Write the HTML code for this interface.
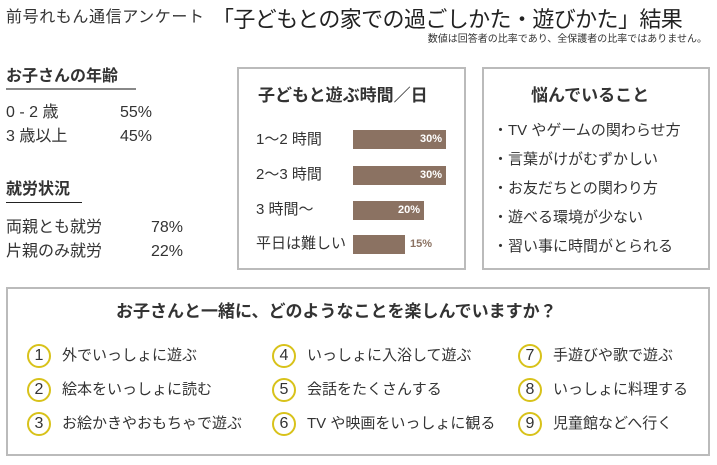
<!DOCTYPE html>
<html><head><meta charset="utf-8"><style>
body{margin:0;width:717px;height:465px;background:#fff;position:relative;font-family:"Liberation Sans","Noto Sans CJK JP",sans-serif;color:#333;overflow:hidden}
.a{position:absolute;white-space:nowrap;line-height:20px}
.box{position:absolute;border:2px solid #bbb;box-sizing:border-box}
.bar{position:absolute;left:353px;height:19px;background:#8b7262;color:#fff;font-size:11px;font-weight:bold;text-align:right;line-height:19px;box-sizing:border-box;padding-right:4px}
.c{position:absolute;width:20px;height:20px;border:2px solid #d8c21a;border-radius:50%;font-size:16px;line-height:20px;text-align:center;color:#333}
.t{position:absolute;font-size:15px;white-space:nowrap;line-height:20px}
</style></head><body>
<div class="a" style="left:6px;top:8px;font-size:16px;letter-spacing:0.6px">前号れもん通信アンケート</div>
<div class="a" style="left:212px;top:6px;font-size:22px;line-height:28px;color:#222;letter-spacing:-0.6px">「子どもとの家での過ごしかた・遊びかた」結果</div>
<div class="a" style="right:10px;top:33px;font-size:10px;line-height:14px">数値は回答者の比率であり、全保護者の比率ではありません。</div>

<div class="a" style="left:6px;top:67px;font-size:16px;font-weight:bold;border-bottom:2px solid #888;padding-bottom:1px;width:130px">お子さんの年齢</div>
<div class="a" style="left:6px;top:103px;font-size:16px">0 - 2 歳</div>
<div class="a" style="left:120px;top:103px;font-size:16px">55%</div>
<div class="a" style="left:6px;top:127px;font-size:16px">3 歳以上</div>
<div class="a" style="left:120px;top:127px;font-size:16px">45%</div>
<div class="a" style="left:6px;top:180px;font-size:16px;font-weight:bold;border-bottom:1px solid #222;padding-bottom:2px;width:76px">就労状況</div>
<div class="a" style="left:6px;top:218px;font-size:16px">両親とも就労</div>
<div class="a" style="left:151px;top:218px;font-size:16px">78%</div>
<div class="a" style="left:6px;top:242px;font-size:16px">片親のみ就労</div>
<div class="a" style="left:151px;top:242px;font-size:16px">22%</div>

<div class="box" style="left:237px;top:67px;width:229px;height:203px"></div>
<div class="a" style="left:258px;top:86px;font-size:17px;font-weight:bold">子どもと遊ぶ時間／日</div>
<div class="a" style="left:256px;top:130px;font-size:15px">1〜2 時間</div>
<div class="a" style="left:256px;top:165px;font-size:15px">2〜3 時間</div>
<div class="a" style="left:256px;top:200px;font-size:15px">3 時間〜</div>
<div class="a" style="left:256px;top:234px;font-size:15px">平日は難しい</div>
<div class="bar" style="top:130px;width:93px">30%</div>
<div class="bar" style="top:166px;width:93px">30%</div>
<div class="bar" style="top:201px;width:71px">20%</div>
<div class="bar" style="top:235px;width:52px"></div>
<div class="a" style="left:410px;top:235px;font-size:11px;font-weight:bold;line-height:19px;color:#8b7262">15%</div>

<div class="box" style="left:482px;top:67px;width:228px;height:203px"></div>
<div class="a" style="left:531px;top:86px;font-size:17px;font-weight:bold">悩んでいること</div>
<div class="a" style="left:493px;top:116px;font-size:15px;line-height:29px">・TV やゲームの関わらせ方<br>・言葉がけがむずかしい<br>・お友だちとの関わり方<br>・遊べる環境が少ない<br>・習い事に時間がとられる</div>

<div class="box" style="left:6px;top:287px;width:704px;height:169px"></div>
<div class="a" style="left:116px;top:302px;font-size:17px;font-weight:bold">お子さんと一緒に、どのようなことを楽しんでいますか？</div>

<div class="c" style="left:27px;top:344px">1</div><div class="t" style="left:62px;top:346px">外でいっしょに遊ぶ</div>
<div class="c" style="left:27px;top:378px">2</div><div class="t" style="left:62px;top:380px">絵本をいっしょに読む</div>
<div class="c" style="left:27px;top:412px">3</div><div class="t" style="left:62px;top:414px">お絵かきやおもちゃで遊ぶ</div>
<div class="c" style="left:272px;top:344px">4</div><div class="t" style="left:307px;top:346px">いっしょに入浴して遊ぶ</div>
<div class="c" style="left:272px;top:378px">5</div><div class="t" style="left:307px;top:380px">会話をたくさんする</div>
<div class="c" style="left:272px;top:412px">6</div><div class="t" style="left:307px;top:414px">TV や映画をいっしょに観る</div>
<div class="c" style="left:518px;top:344px">7</div><div class="t" style="left:553px;top:346px">手遊びや歌で遊ぶ</div>
<div class="c" style="left:518px;top:378px">8</div><div class="t" style="left:553px;top:380px">いっしょに料理する</div>
<div class="c" style="left:518px;top:412px">9</div><div class="t" style="left:553px;top:414px">児童館などへ行く</div>
</body></html>
